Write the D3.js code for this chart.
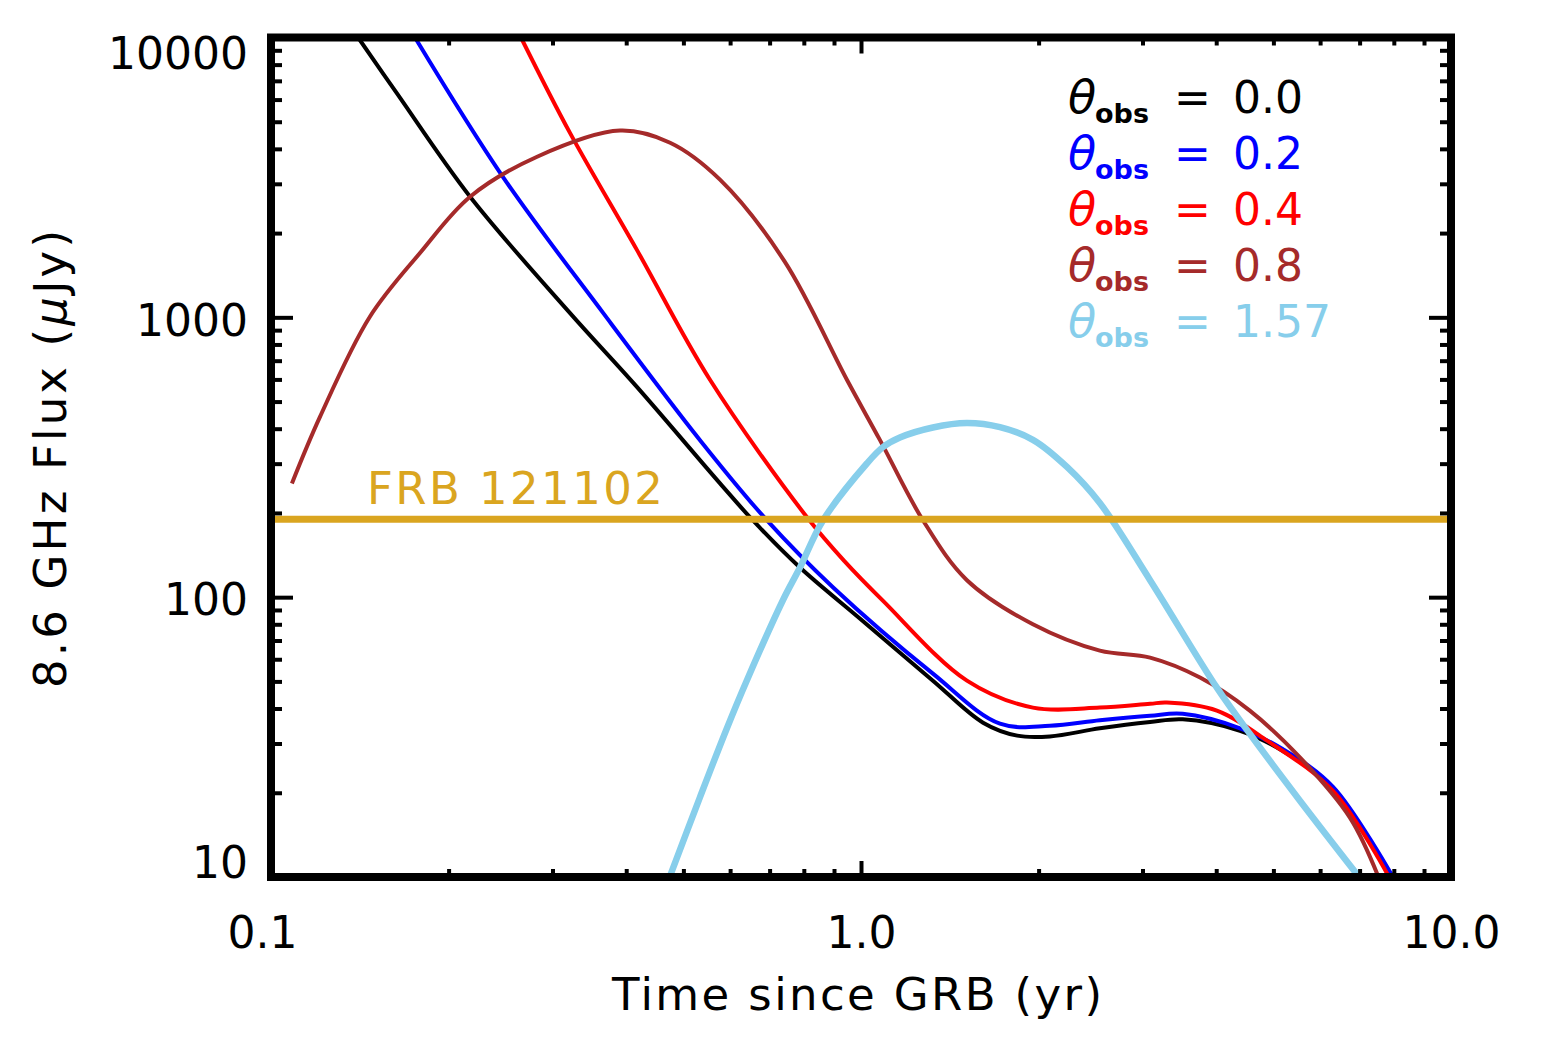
<!DOCTYPE html>
<html lang="en">
<head>
    <meta charset="UTF-8">
    <title>8.6 GHz Flux vs Time since GRB</title>
    <script src="https://d3js.org/d3.v7.min.js"></script>
    <style>
        html, body {
            margin: 0;
            padding: 0;
            background: white;
        }
        svg {
            display: block;
            font-family: "DejaVu Sans", sans-serif;
        }
    </style>
</head>
<body>
    <svg id="chart" width="1546" height="1059"></svg>

    <script>
        // --- data (time in yr, flux in µJy) ---
        const xTickValues = [0.1, 1, 10];
        const xTickLabels = ["0.1", "1.0", "10.0"];
        const yTickValues = [10, 100, 1000, 10000];
        const yTickLabels = ["10", "100", "1000", "10000"];

        const thetaLabels = ["0.0", "0.2", "0.4", "0.8", "1.57"];
        const thetaColors = ["#000000", "#0000ff", "#ff0000", "#a52a2a", "#87ceeb"];

        const t00 = [0.1405, 0.1636, 0.2175, 0.321, 0.417, 0.5768, 0.656, 0.788, 1.0, 1.324, 1.61, 1.84, 2.09, 2.54, 3.09, 3.51, 4.39, 5.19, 6.31, 7.88];
        const f00 = [10000, 6300, 2698, 1037, 564, 255, 188, 127.6, 83.2, 50.3, 35.6, 32.0, 31.8, 34.0, 35.8, 36.6, 33.3, 28.2, 20.8, 10.1];

        const t02 = [0.1754, 0.247, 0.3655, 0.5335, 0.693, 0.897, 1.324, 1.72, 2.09, 2.54, 3.09, 3.51, 4.39, 5.19, 6.31, 7.95];
        const f02 = [10000, 3184, 1037, 364, 188, 108.3, 53.3, 35.3, 34.7, 36.3, 37.7, 38.3, 34.0, 28.6, 21.0, 10.1];

        const t04 = [0.2653, 0.321, 0.417, 0.555, 0.81, 0.939, 1.09, 1.512, 1.956, 2.54, 3.09, 3.30, 4.01, 4.88, 6.31, 7.83];
        const f04 = [10000, 4571, 1742, 597, 193, 134, 97, 50.3, 40.3, 40.3, 41.6, 42.0, 39.3, 30.7, 20.3, 10.1];

        const t08 = [0.1085, 0.121, 0.147, 0.179, 0.2175, 0.2825, 0.3904, 0.4747, 0.5768, 0.743, 0.947, 1.077, 1.274, 1.512, 1.956, 2.54, 3.09, 3.755, 4.56, 5.55, 6.74, 7.52];
        const f08 = [255, 440, 1003, 1701, 2698, 3750, 4650, 4208, 3105, 1578, 597, 364, 188, 115, 80, 64.4, 60.8, 51.6, 39.3, 26.7, 16.3, 10.1];

        const t157 = [0.4747, 0.5335, 0.5928, 0.641, 0.7376, 0.788, 0.862, 1.024, 1.09, 1.164, 1.324, 1.512, 1.72, 1.956, 2.234, 2.54, 3.09, 4.01, 4.56, 5.55, 6.96];
        const f157 = [10.1, 19.3, 34.1, 50.6, 97.7, 127.6, 188, 301, 344, 372, 404, 419, 405, 365, 292, 217, 115, 47.5, 32.5, 18.7, 10.1];

        const frbFlux = 190;
        const frbLabel = "FRB 121102";
        const frbLabelTime = 0.1454;

        const seriesTimes = [t00, t02, t04, t08, t157];
        const seriesFlux = [f00, f02, f04, f08, f157];

        // --- layout ---
        const svg = d3.select("#chart");
        const plotL = 271, plotR = 1451, plotT = 37.5, plotB = 877;

        const x = d3.scaleLog().domain([0.1, 10]).range([plotL, plotR]);
        const y = d3.scaleLog().domain([10, 10000]).range([plotB, plotT]);

        // minor ticks 2..9 in each decade
        function minors(lo, hi) {
            const out = [];
            for (let d = lo; d < hi; d *= 10) {
                for (let k = 2; k <= 9; k++) out.push(d * k);
            }
            return out;
        }
        const xMinor = minors(0.1, 10);
        const yMinor = minors(10, 10000);

        svg.append("defs").append("clipPath").attr("id", "plotClip")
            .append("rect")
            .attr("x", plotL).attr("y", plotT)
            .attr("width", plotR - plotL).attr("height", plotB - plotT);

        const plot = svg.append("g").attr("clip-path", "url(#plotClip)");

        const line = d3.line()
            .x(d => x(d[0]))
            .y(d => y(d[1]))
            .curve(d3.curveCatmullRom.alpha(0.5));

        seriesTimes.forEach((ts, i) => {
            const pts = ts.map((t, j) => [t, seriesFlux[i][j]]);
            plot.append("path")
                .attr("d", line(pts))
                .attr("fill", "none")
                .attr("stroke", thetaColors[i])
                .attr("stroke-width", i === 4 ? 6.5 : 4)
                .attr("stroke-linejoin", "round");
        });

        // FRB 121102 level
        plot.append("line")
            .attr("x1", plotL).attr("x2", plotR)
            .attr("y1", y(frbFlux)).attr("y2", y(frbFlux))
            .attr("stroke", "#daa520")
            .attr("stroke-width", 7);

        svg.append("text")
            .attr("x", x(frbLabelTime))
            .attr("y", y(frbFlux) - 15)
            .attr("fill", "#daa520")
            .attr("font-size", 45)
            .attr("textLength", 296)
            .attr("lengthAdjust", "spacing")
            .text(frbLabel);

        // --- axes (ticks inward on all four sides) ---
        function styleAxis(g) {
            g.select(".domain").remove();
            g.selectAll(".tick line").attr("stroke", "#000").attr("stroke-width", 4);
            g.selectAll(".tick text").attr("fill", "#000").attr("font-size", 44)
                .attr("font-family", "'DejaVu Sans', sans-serif");
        }

        // bottom
        svg.append("g").attr("transform", `translate(0,${plotB})`)
            .call(d3.axisBottom(x).tickValues(xTickValues).tickSize(-16).tickPadding(40)
                .tickFormat((d, i) => xTickLabels[i]))
            .call(styleAxis)
            .call(g => g.selectAll(".tick text").attr("dx", (d, i) => i === 0 ? -9 : 0));
        svg.append("g").attr("transform", `translate(0,${plotB})`)
            .call(d3.axisBottom(x).tickValues(xMinor).tickSize(-8).tickFormat(""))
            .call(styleAxis);
        // top
        svg.append("g").attr("transform", `translate(0,${plotT})`)
            .call(d3.axisTop(x).tickValues(xTickValues).tickSize(-16).tickFormat(""))
            .call(styleAxis);
        svg.append("g").attr("transform", `translate(0,${plotT})`)
            .call(d3.axisTop(x).tickValues(xMinor).tickSize(-8).tickFormat(""))
            .call(styleAxis);
        // left
        const yLabelShift = [-14, 3, 4, 17];
        svg.append("g").attr("transform", `translate(${plotL},0)`)
            .call(d3.axisLeft(y).tickValues(yTickValues).tickSize(-22).tickPadding(23)
                .tickFormat((d, i) => yTickLabels[i]))
            .call(styleAxis)
            .call(g => g.selectAll(".tick text").attr("dy", (d, i) => (yLabelShift[i] + 0.32 * 44) + "px"));
        svg.append("g").attr("transform", `translate(${plotL},0)`)
            .call(d3.axisLeft(y).tickValues(yMinor).tickSize(-11).tickFormat(""))
            .call(styleAxis);
        // right
        svg.append("g").attr("transform", `translate(${plotR},0)`)
            .call(d3.axisRight(y).tickValues(yTickValues).tickSize(-22).tickFormat(""))
            .call(styleAxis);
        svg.append("g").attr("transform", `translate(${plotR},0)`)
            .call(d3.axisRight(y).tickValues(yMinor).tickSize(-11).tickFormat(""))
            .call(styleAxis);

        // frame
        svg.append("rect")
            .attr("x", plotL).attr("y", plotT)
            .attr("width", plotR - plotL).attr("height", plotB - plotT)
            .attr("fill", "none")
            .attr("stroke", "#000")
            .attr("stroke-width", 8);

        // axis titles
        svg.append("text")
            .attr("x", 857).attr("y", 1010)
            .attr("text-anchor", "middle")
            .attr("font-size", 45)
            .attr("textLength", 490)
            .attr("lengthAdjust", "spacing")
            .text("Time since GRB (yr)");

        const yTitle = svg.append("text")
            .attr("transform", "translate(66,459) rotate(-90)")
            .attr("text-anchor", "middle")
            .attr("font-size", 45)
            .attr("textLength", 458)
            .attr("lengthAdjust", "spacing");
        yTitle.append("tspan").text("8.6 GHz Flux (");
        yTitle.append("tspan").attr("font-style", "italic").text("μ");
        yTitle.append("tspan").text("Jy)");

        // legend
        const legend = svg.append("g");
        thetaLabels.forEach((lab, i) => {
            const base = 113 + i * 56;
            const c = thetaColors[i];
            legend.append("text").attr("x", 1068).attr("y", base)
                .attr("fill", c).attr("font-size", 46).attr("font-style", "italic")
                .text("θ");
            legend.append("text").attr("x", 1095).attr("y", base + 10)
                .attr("fill", c).attr("font-size", 27).attr("font-weight", "bold")
                .text("obs");
            legend.append("text").attr("x", 1174).attr("y", base)
                .attr("fill", c).attr("font-size", 44)
                .text("=");
            legend.append("text").attr("x", 1233).attr("y", base)
                .attr("fill", c).attr("font-size", 44)
                .text(lab);
        });
    </script>
</body>
</html>
